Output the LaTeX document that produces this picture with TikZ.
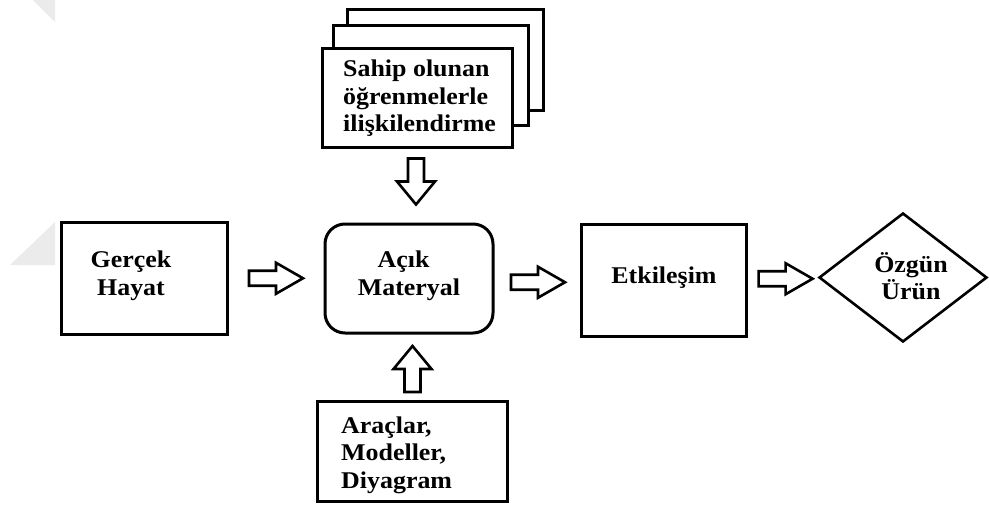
\documentclass[tikz,border=0pt]{standalone}
\usepackage{fontspec}
\setmainfont{Liberation Serif}[FakeStretch=1.08]
\usetikzlibrary{shapes.geometric,calc}
\begin{document}
\begin{tikzpicture}[x=1pt,y=-1pt,
  box/.style={draw,line width=3pt,fill=white,inner sep=0pt},
  lbl/.style={font=\fontsize{24}{27.5}\selectfont\bfseries,align=center,inner sep=0pt},
  lbll/.style={lbl,align=left,anchor=west},
  wm/.style={fill=black!8,draw=none},
  pics/harrow/.style={code={\draw[line width=2.6pt,fill=white] (-27,-7.5) -- (0,-7.5) -- (0,-15.5) -- (27,0) -- (0,15.5) -- (0,7.5) -- (-27,7.5) -- cycle;}},
  pics/varrow/.style={code={\draw[line width=2.6pt,fill=white] (-8,-23) -- (-8,0) -- (-19,0) -- (0,23) -- (19,0) -- (8,0) -- (8,-23) -- cycle;}}
]
\useasboundingbox (0,0) rectangle (989,504);
% faint watermark
\fill[wm] (33,0) -- (55,0) -- (55,22) -- cycle;
\fill[wm] (10,265) -- (55,222) -- (55,265) -- cycle;

% boxes
\node[box,minimum width=166pt,minimum height=112pt] (g) at (144,278) {};
\node[lbl] (gt) at (131,276) {Gerçek\\Hayat};

\node[box,rounded corners=20pt,minimum width=168pt,minimum height=109pt] (m) at (409,278.5) {};
\node[lbl] (mt) at (409,276) {Açık\hspace*{11pt}\\Materyal};

\node[box,minimum width=165pt,minimum height=112pt] (e) at (663.5,280) {};
\node[lbl] (et) at (664,278) {Etkileşim};

\node[box,diamond,line width=2.6pt,minimum width=168pt,minimum height=129pt] (d) at (903,277.5) {};
\node[lbl] (dt) at (911,276) {Özgün\\Ürün};

% stacked top boxes
\node[box,minimum width=196pt,minimum height=101pt] (tb3) at (445,59.5) {};
\node[box,minimum width=195pt,minimum height=100pt] (tb2) at (430.5,75) {};
\node[box,minimum width=190pt,minimum height=99pt] (tb) at (417,97.5) {};
\node[lbll] (tt) at (343,98.5) {Sahip olunan\\öğrenmelerle\\ilişkilendirme};

% bottom box
\node[box,minimum width=190pt,minimum height=100pt] (bb) at (412,451) {};
\node[lbll] (bt) at (341,455) {Araçlar,\\Modeller,\\Diyagram};

% block arrows
\pic at ($(g.east)!0.5!(m.west)$) {harrow};
\pic at ($(m.east)!0.5!(e.west)+(1,3)$) {harrow};
\pic at ($(e.east)!0.5!(d.west)+(3,0)$) {harrow};
\pic at ($(tb.south)!0.5!(m.north)+(3,-4)$) {varrow};
\pic[rotate=180] at ($(m.south)!0.5!(bb.north)+(2,2)$) {varrow};
\end{tikzpicture}
\end{document}
